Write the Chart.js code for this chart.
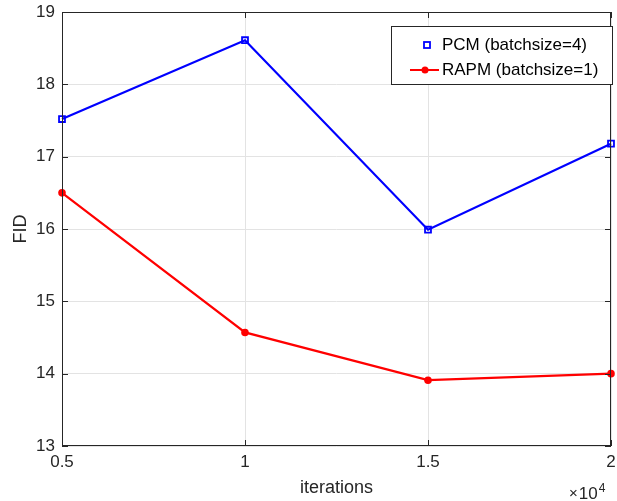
<!DOCTYPE html>
<html>
<head>
<meta charset="utf-8">
<script src="https://cdn.jsdelivr.net/npm/chart.js@4"></script>
<style>
html,body{margin:0;padding:0;background:#fff;}
#wrap{width:617px;height:501px;position:relative;}
</style>
</head>
<body>
<div id="wrap"><canvas id="c" width="617" height="501"></canvas></div>
<script>
const iterations = [0.5, 1, 1.5, 2];
const pcmFID = [17.52, 18.61, 15.99, 17.18];
const rapmFID = [16.50, 14.57, 13.91, 14.00];
const xTicks = [0.5, 1, 1.5, 2];
const yTicks = [13, 14, 15, 16, 17, 18, 19];
const seriesLabels = ['PCM (batchsize=4)', 'RAPM (batchsize=1)'];

const AX = '#262626';
const FONT = 'Liberation Sans, Arial, Helvetica, sans-serif';

const deco = {
  id: 'deco',
  afterDraw(chart) {
    const ctx = chart.ctx;
    const a = chart.chartArea;
    const xs = chart.scales.x, ys = chart.scales.y;
    ctx.save();
    ctx.strokeStyle = AX;
    ctx.lineWidth = 1;
    // box
    ctx.strokeRect(Math.round(a.left)+0.5, Math.round(a.top)+0.5, Math.round(a.right-a.left)-1, Math.round(a.bottom-a.top)-1);
    // inward ticks
    const tl = 6;
    ctx.beginPath();
    xTicks.forEach(v => {
      const px = Math.round(xs.getPixelForValue(v)) + 0.5;
      ctx.moveTo(px, a.bottom); ctx.lineTo(px, a.bottom - tl);
      ctx.moveTo(px, a.top); ctx.lineTo(px, a.top + tl);
    });
    yTicks.forEach(v => {
      const py = Math.round(ys.getPixelForValue(v)) + 0.5;
      ctx.moveTo(a.left, py); ctx.lineTo(a.left + tl, py);
      ctx.moveTo(a.right, py); ctx.lineTo(a.right - tl, py);
    });
    ctx.stroke();
    // axis titles
    ctx.fillStyle = AX;
    ctx.font = '18px ' + FONT;
    ctx.textAlign = 'center';
    ctx.textBaseline = 'middle';
    ctx.fillText('iterations', (a.left + a.right) / 2, 488);
    ctx.save();
    ctx.translate(21, (a.top + a.bottom) / 2);
    ctx.rotate(-Math.PI / 2);
    ctx.fillText('FID', 0, 0);
    ctx.restore();
    // exponent
    ctx.textAlign = 'left';
    ctx.textBaseline = 'alphabetic';
    let ex = 569;
    ctx.font = '15px ' + FONT;
    ctx.fillText('\u00d7', ex, 498);
    ex += ctx.measureText('\u00d7').width + 1;
    ctx.font = '17px ' + FONT;
    ctx.fillText('10', ex, 499);
    ex += ctx.measureText('10').width + 1;
    ctx.font = '12px ' + FONT;
    ctx.fillText('4', ex, 492);
    // legend
    const lx = 391, ly = 26, lw = 221, lh = 58;
    ctx.fillStyle = '#fff';
    ctx.fillRect(lx, ly, lw, lh);
    ctx.strokeStyle = AX;
    ctx.lineWidth = 1;
    ctx.strokeRect(lx + 0.5, ly + 0.5, lw, lh);
    // entry 1
    ctx.strokeStyle = '#0000ff';
    ctx.lineWidth = 1.8;
    ctx.strokeRect(424, 42, 6, 6);
    ctx.fillStyle = '#000';
    ctx.font = '17px ' + FONT;
    ctx.textBaseline = 'middle';
    ctx.fillText(seriesLabels[0], 442, 45);
    // entry 2
    ctx.strokeStyle = '#ff0000';
    ctx.lineWidth = 2;
    ctx.beginPath(); ctx.moveTo(410, 70); ctx.lineTo(439, 70); ctx.stroke();
    ctx.fillStyle = '#ff0000';
    ctx.beginPath(); ctx.arc(425, 70, 3.5, 0, Math.PI * 2); ctx.fill();
    ctx.fillStyle = '#000';
    ctx.fillText(seriesLabels[1], 442, 70);
    ctx.restore();
  }
};

new Chart(document.getElementById('c'), {
  type: 'line',
  data: {
    datasets: [
      {
        label: seriesLabels[0],
        data: iterations.map((x, i) => ({x, y: pcmFID[i]})),
        borderColor: '#0000ff',
        backgroundColor: 'rgba(0,0,0,0)',
        borderWidth: 2.2,
        pointStyle: 'rect',
        pointRadius: 4.2,
        pointBorderWidth: 1.8,
        pointBorderColor: '#0000ff',
        pointBackgroundColor: 'rgba(0,0,0,0)',
        tension: 0
      },
      {
        label: seriesLabels[1],
        data: iterations.map((x, i) => ({x, y: rapmFID[i]})),
        borderColor: '#ff0000',
        backgroundColor: '#ff0000',
        borderWidth: 2.2,
        pointStyle: 'circle',
        pointRadius: 3.8,
        pointBorderWidth: 0,
        pointBackgroundColor: '#ff0000',
        tension: 0
      }
    ]
  },
  options: {
    responsive: false,
    animation: false,
    devicePixelRatio: 1,
    clip: false,
    layout: { padding: { left: 0, right: 5, top: 12, bottom: 0 } },
    plugins: { legend: { display: false }, tooltip: { enabled: false } },
    scales: {
      x: {
        type: 'linear',
        min: 0.5, max: 2,
        afterBuildTicks: s => { s.ticks = xTicks.map(v => ({value: v})); },
        afterFit: s => { s.height = 55; s.paddingLeft = 0; s.paddingRight = 0; },
        ticks: { color: AX, font: { size: 17, family: FONT }, padding: 6, maxRotation: 0,
          callback: v => String(v) },
        grid: { color: '#e3e3e3', drawTicks: false, lineWidth: 1 },
        border: { display: false }
      },
      y: {
        type: 'linear',
        min: 13, max: 19,
        afterBuildTicks: s => { s.ticks = yTicks.map(v => ({value: v})); },
        afterFit: s => { s.width = 62; s.paddingTop = 0; s.paddingBottom = 0; },
        ticks: { color: AX, font: { size: 17, family: FONT }, padding: 7 },
        grid: { color: '#e3e3e3', drawTicks: false, lineWidth: 1 },
        border: { display: false }
      }
    }
  },
  plugins: [deco]
});
</script>
</body>
</html>
